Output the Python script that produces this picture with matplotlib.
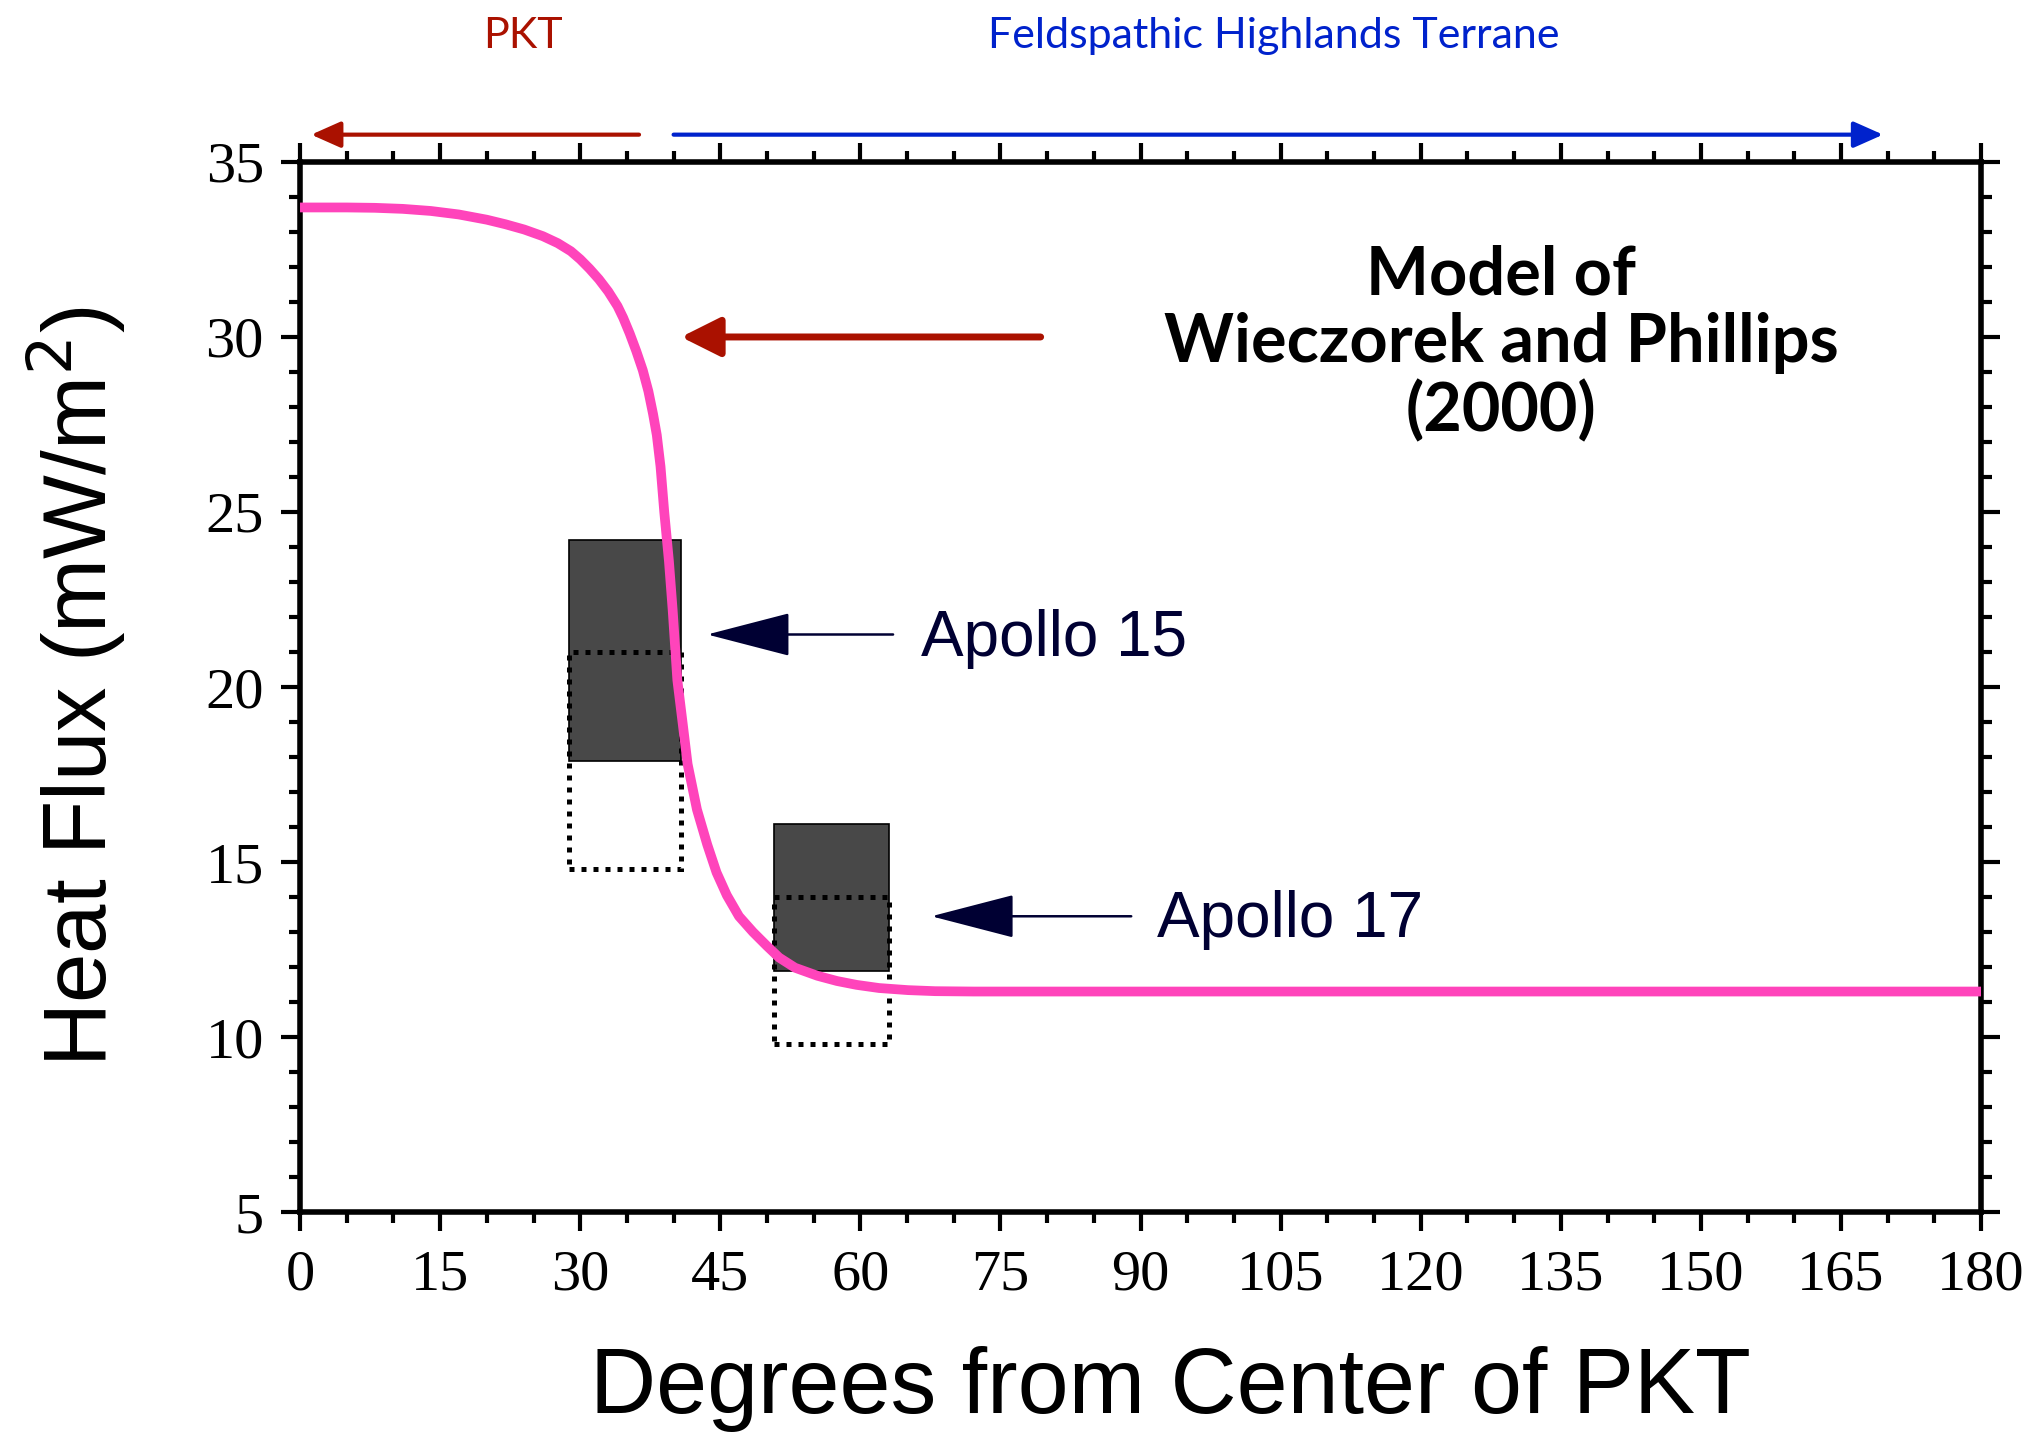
import matplotlib
matplotlib.use("Agg")
import matplotlib.pyplot as plt
from matplotlib.patches import Rectangle
from matplotlib.ticker import MultipleLocator

# model curve (degrees from PKT centre, heat flux mW/m^2)
model_deg = [0, 5, 8, 11, 14, 17, 20, 22, 24, 26, 27.6, 29, 30, 31, 32, 33, 34,
             34.6, 35.3, 36.0, 36.7, 37.3, 37.8, 38.2, 38.6, 39.0, 39.5, 39.9,
             40.4, 41.0, 41.5, 42.5, 43.6, 44.6, 45.7, 47.0, 48.5, 50.0, 51.3,
             53.0, 55.4, 57.5, 59.6, 62.0, 65.1, 68.0, 72.1, 100, 140, 180]
model_flux = [33.7, 33.7, 33.69, 33.66, 33.6, 33.5, 33.35, 33.22, 33.07, 32.88,
              32.68, 32.45, 32.22, 31.95, 31.65, 31.3, 30.88, 30.55, 30.1, 29.6,
              29.05, 28.45, 27.8, 27.2, 26.3, 25.0, 23.6, 22.2, 20.2, 18.9,
              17.8, 16.5, 15.5, 14.7, 14.05, 13.45, 13.0, 12.6, 12.27, 11.98,
              11.75, 11.6, 11.49, 11.4, 11.34, 11.31, 11.3, 11.3, 11.3, 11.3]

# Apollo heat-flow ranges (x span in degrees, revised range, original range)
site_names = ["Apollo 15", "Apollo 17"]
site_x0 = [28.75, 50.8]
site_x1 = [40.8, 63.1]
revised_lo = [17.9, 11.9]
revised_hi = [24.2, 16.1]
original_lo = [14.8, 9.8]
original_hi = [21.0, 14.0]
label_y = [21.5, 13.45]
arrow_x0 = [63.5, 89.0]
arrow_x1 = [43.6, 67.6]
text_x = [66.5, 91.8]

pink = "#ff44bb"
red = "#aa1100"
blue = "#0022cc"
navy = "#000033"

fig = plt.figure(figsize=(20.34, 14.32), dpi=100)
ax = fig.add_axes([0.1475, 0.1536, 0.8265, 0.7333])

for i in range(len(site_names)):
    w = site_x1[i] - site_x0[i]
    ax.add_patch(Rectangle((site_x0[i], revised_lo[i]), w, revised_hi[i] - revised_lo[i],
                           facecolor="#484848", edgecolor="black", lw=1.2, zorder=2))
    ax.add_patch(Rectangle((site_x0[i], original_lo[i]), w, original_hi[i] - original_lo[i],
                           facecolor="none", edgecolor="black", lw=3.6, ls=(0, (1, 1.4)),
                           zorder=3))
    ax.annotate("", xy=(arrow_x1[i], label_y[i]), xytext=(arrow_x0[i], label_y[i]),
                arrowprops=dict(arrowstyle="-|>,head_length=5.4,head_width=1.4",
                                color=navy, lw=1.8, shrinkA=0, shrinkB=0))
    ax.text(text_x[i], label_y[i] - 0.12, site_names[i], fontsize=46, color=navy,
            family="Liberation Sans", va="center", ha="left")

ax.plot(model_deg, model_flux, color=pink, lw=7, zorder=4, solid_capstyle="butt")

# arrow pointing at the model curve
ax.annotate("", xy=(40.8, 30), xytext=(79.3, 30),
            arrowprops=dict(arrowstyle="-|>,head_length=2.4,head_width=1.2",
                            color=red, lw=5, shrinkA=0, shrinkB=0))

ax.text(128.6, 29.8, "Model of\nWieczorek and Phillips\n(2000)", ha="center",
        va="center", fontsize=48, fontweight="bold", family="Lato", linespacing=1.12)

# terrane arrows above the frame
ax.annotate("", xy=(1.2, 35.78), xytext=(36.3, 35.78), annotation_clip=False,
            arrowprops=dict(arrowstyle="-|>,head_length=1.8,head_width=0.8",
                            color=red, lw=3, shrinkA=0, shrinkB=0))
ax.annotate("", xy=(169.5, 35.78), xytext=(40.0, 35.78), annotation_clip=False,
            arrowprops=dict(arrowstyle="-|>,head_length=1.8,head_width=0.8",
                            color=blue, lw=3, shrinkA=0, shrinkB=0))
ax.text(23.9, 38.6, "PKT", color=red, fontsize=31, family="Lato", ha="center",
        va="center", clip_on=False)
ax.text(104.3, 38.6, "Feldspathic Highlands Terrane", color=blue, fontsize=31,
        family="Lato", ha="center", va="center", clip_on=False)

ax.set_xlim(0, 180)
ax.set_ylim(5, 35)
ax.xaxis.set_major_locator(MultipleLocator(15))
ax.xaxis.set_minor_locator(MultipleLocator(5))
ax.yaxis.set_major_locator(MultipleLocator(5))
ax.yaxis.set_minor_locator(MultipleLocator(1))
ax.tick_params(which="both", direction="out", top=True, right=True, width=3)
ax.tick_params(which="major", length=14)
ax.tick_params(which="minor", length=8)
ax.tick_params(axis="x", pad=13)
ax.tick_params(axis="y", pad=12)
for lab in ax.get_xticklabels() + ax.get_yticklabels():
    lab.set_family("Liberation Serif")
    lab.set_fontsize(42)
for s in ax.spines.values():
    s.set_linewidth(4)

ax.set_xlabel("Degrees from Center of PKT", fontsize=66, family="Liberation Sans",
              labelpad=32)
ax.xaxis.label.set_x(0.518)
ax.set_ylabel("Heat Flux (mW/m$^2$)", fontsize=64, family="Liberation Sans", labelpad=56)

fig.savefig("out.png", dpi=100)
